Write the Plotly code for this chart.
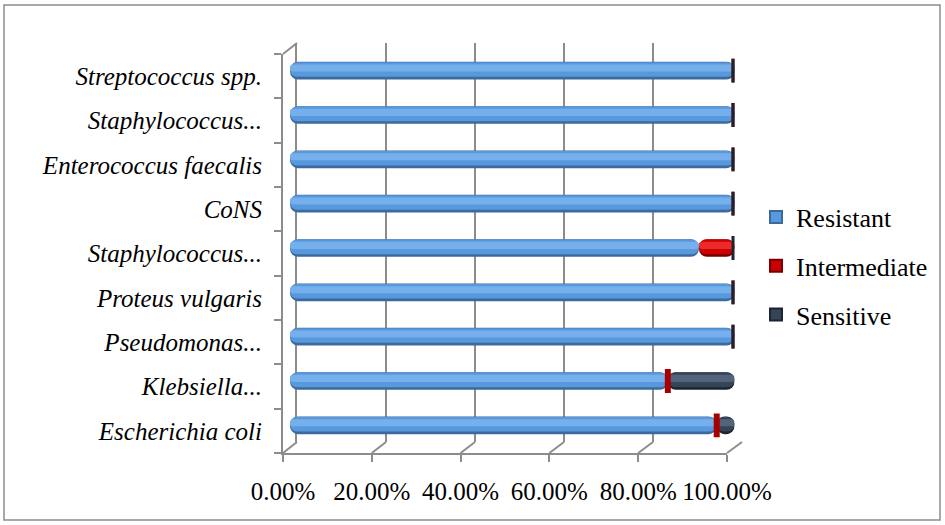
import plotly.graph_objects as go

# ---- data -------------------------------------------------------------
categories = ["Escherichia coli", "Klebsiella...", "Pseudomonas...", "Proteus vulgaris",
              "Staphylococcus...", "CoNS", "Enterococcus faecalis", "Staphylococcus...",
              "Streptococcus spp."]
resistant = [96.0, 85.0, 100.0, 100.0, 92.0, 100.0, 100.0, 100.0, 100.0]
intermediate = [0.0, 0.0, 0.0, 0.0, 8.0, 0.0, 0.0, 0.0, 0.0]
sensitive = [4.0, 15.0, 0.0, 0.0, 0.0, 0.0, 0.0, 0.0, 0.0]
series_names = ["Resistant", "Intermediate", "Sensitive"]
x_ticks = [0, 20, 40, 60, 80, 100]

# ---- styling ------------------------------------------------------------
W, H = 945, 525
FONT = "Liberation Serif"
GRID = "#8c8c8c"
# (edge, body, shine) shades that give each bar a rounded, tubular look
SHADES = {
    "Resistant": ("#3b6a9c", "#5898dc", "#76b0ec"),
    "Intermediate": ("#780000", "#cc0000", "#ec2a2a"),
    "Sensitive": ("#1b2431", "#364457", "#52637a"),
}
DISC = {"Intermediate": "#a80000", "Sensitive": "#1b2431"}

# pixel geometry of the three depth planes of the oblique 3-D frame
FRONT = dict(x0=283, x1=727, top=54, bottom=453)
BACK = dict(x0=297, x1=742, top=43, bottom=442)
MID = dict(x0=290, x1=734.5, top=48.5, bottom=447.5)


def fx(p):
    return p / W


def fy(p):
    return 1 - p / H


def plane_x(plane, v):
    return plane["x0"] + (plane["x1"] - plane["x0"]) * v / 100.0


pos = list(range(len(categories)))
values = [resistant, intermediate, sensitive]
n = len(categories)

fig = go.Figure()

# empty traces so the back-wall and front-axis subplots get drawn
fig.add_trace(go.Scatter(x=[None], y=[None], mode="markers", xaxis="x", yaxis="y",
                         showlegend=False, hoverinfo="skip"))
fig.add_trace(go.Scatter(x=[None], y=[None], mode="markers", xaxis="x2", yaxis="y2",
                         showlegend=False, hoverinfo="skip"))

# ---- stacked tubes (floating bars get both ends rounded) -----------------------
starts = [0.0] * n
layers = [(0.40, 0.0, 0), (0.33, 0.025, 1), (0.16, 0.06, 2)]
for name, vals in zip(series_names, values):
    for width, shift, shade in layers:
        fig.add_trace(go.Bar(
            y=pos, x=vals, base=starts,
            orientation="h", width=width, offset=-width / 2 + shift,
            marker=dict(color=SHADES[name][shade], cornerradius="50%",
                        line=dict(width=0)),
            name=name, legendgroup=name, showlegend=False,
            xaxis="x3", yaxis="y3", hoverinfo="skip",
        ))
    starts = [s + v for s, v in zip(starts, vals)]

# zero-length segments show up as flat end discs
starts = [0.0] * n
disc_pts = {}
for name, vals in zip(series_names, values):
    if name in DISC:
        disc_pts[name] = ([s for s, v in zip(starts, vals) if v == 0],
                          [p for p, v in zip(pos, vals) if v == 0])
    starts = [s + v for s, v in zip(starts, vals)]
for name in ["Intermediate", "Sensitive"]:
    xs, ys = disc_pts[name]
    fig.add_trace(go.Scatter(
        x=xs, y=ys, mode="markers", xaxis="x3", yaxis="y3",
        marker=dict(symbol="line-ns", size=17,
                    line=dict(width=6, color=DISC[name])),
        showlegend=False, hoverinfo="skip",
    ))

# legend keys (square swatches)
for i, name in enumerate(series_names):
    fig.add_trace(go.Bar(
        y=[None], x=[None], orientation="h", name=name, legendgroup=name,
        legendrank=i, xaxis="x3", yaxis="y3",
        marker=dict(color=SHADES[name][1], line=dict(color=SHADES[name][0], width=2)),
    ))

# ---- frame shapes: top-left edge, floor ticks and chart border -----------------
shapes = [dict(type="line", xref="paper", yref="paper",
               x0=fx(FRONT["x0"]), y0=fy(FRONT["top"]),
               x1=fx(BACK["x0"]), y1=fy(BACK["top"]),
               line=dict(color=GRID, width=2))]
for v in x_ticks:
    shapes.append(dict(type="line", xref="paper", yref="paper",
                       x0=fx(plane_x(FRONT, v)), y0=fy(FRONT["bottom"]),
                       x1=fx(plane_x(BACK, v)), y1=fy(BACK["bottom"]),
                       line=dict(color=GRID, width=2)))
shapes.append(dict(type="rect", xref="paper", yref="paper",
                   x0=fx(4), y0=fy(520), x1=fx(940), y1=fy(5),
                   line=dict(color=GRID, width=1.5)))

fig.update_layout(
    width=W, height=H, margin=dict(l=0, r=0, t=0, b=0, autoexpand=False),
    paper_bgcolor="white", plot_bgcolor="rgba(0,0,0,0)",
    barmode="overlay", shapes=shapes,
    # back wall with vertical gridlines
    xaxis=dict(domain=[fx(BACK["x0"]), fx(BACK["x1"])], anchor="y", range=[0, 100],
               tickvals=x_ticks, showticklabels=False, ticks="",
               showgrid=True, gridcolor=GRID, gridwidth=2,
               zeroline=False, showline=False, fixedrange=True),
    yaxis=dict(domain=[fy(BACK["bottom"]), fy(BACK["top"])], anchor="x",
               range=[-0.5, n - 0.5],
               showticklabels=False, ticks="", showgrid=False, zeroline=False,
               showline=True, linecolor=GRID, linewidth=2, fixedrange=True),
    # front plane carrying the tick labels
    xaxis2=dict(domain=[fx(FRONT["x0"]), fx(FRONT["x1"])], anchor="y2", range=[0, 100],
                tickvals=x_ticks, ticktext=[f"{v:.2f}%" for v in x_ticks],
                ticks="outside", ticklen=7, tickwidth=2, tickcolor=GRID,
                showline=True, linecolor=GRID, linewidth=2,
                showgrid=False, zeroline=False, tickangle=0,
                tickfont=dict(family=FONT, size=25, color="black"),
                ticklabelstandoff=8, automargin=False, fixedrange=True),
    yaxis2=dict(domain=[fy(FRONT["bottom"]), fy(FRONT["top"])], anchor="x2",
                range=[-0.5, n - 0.5],
                tickvals=pos, ticktext=categories, ticks="",
                minor=dict(tickvals=[p - 0.5 for p in pos] + [n - 0.5],
                           ticks="outside", ticklen=7, tickwidth=2,
                           tickcolor=GRID, showgrid=False),
                showline=True, linecolor=GRID, linewidth=2,
                showgrid=False, zeroline=False, tickangle=0,
                tickfont=dict(family=FONT, size=25, color="black", style="italic"),
                ticklabelstandoff=14, automargin=False, fixedrange=True),
    # mid-depth plane where the tubes sit
    xaxis3=dict(domain=[fx(MID["x0"]), fx(MID["x1"])], anchor="y3", range=[0, 100],
                visible=False, fixedrange=True),
    yaxis3=dict(domain=[fy(MID["bottom"]), fy(MID["top"])], anchor="x3",
                range=[-0.5, n - 0.5], visible=False, fixedrange=True),
    legend=dict(x=fx(756), y=fy(266), xanchor="left", yanchor="middle",
                font=dict(family=FONT, size=26, color="black"),
                tracegroupgap=12, traceorder="grouped",
                bgcolor="rgba(0,0,0,0)"),
    showlegend=True,
)

fig.write_html("out.html")
